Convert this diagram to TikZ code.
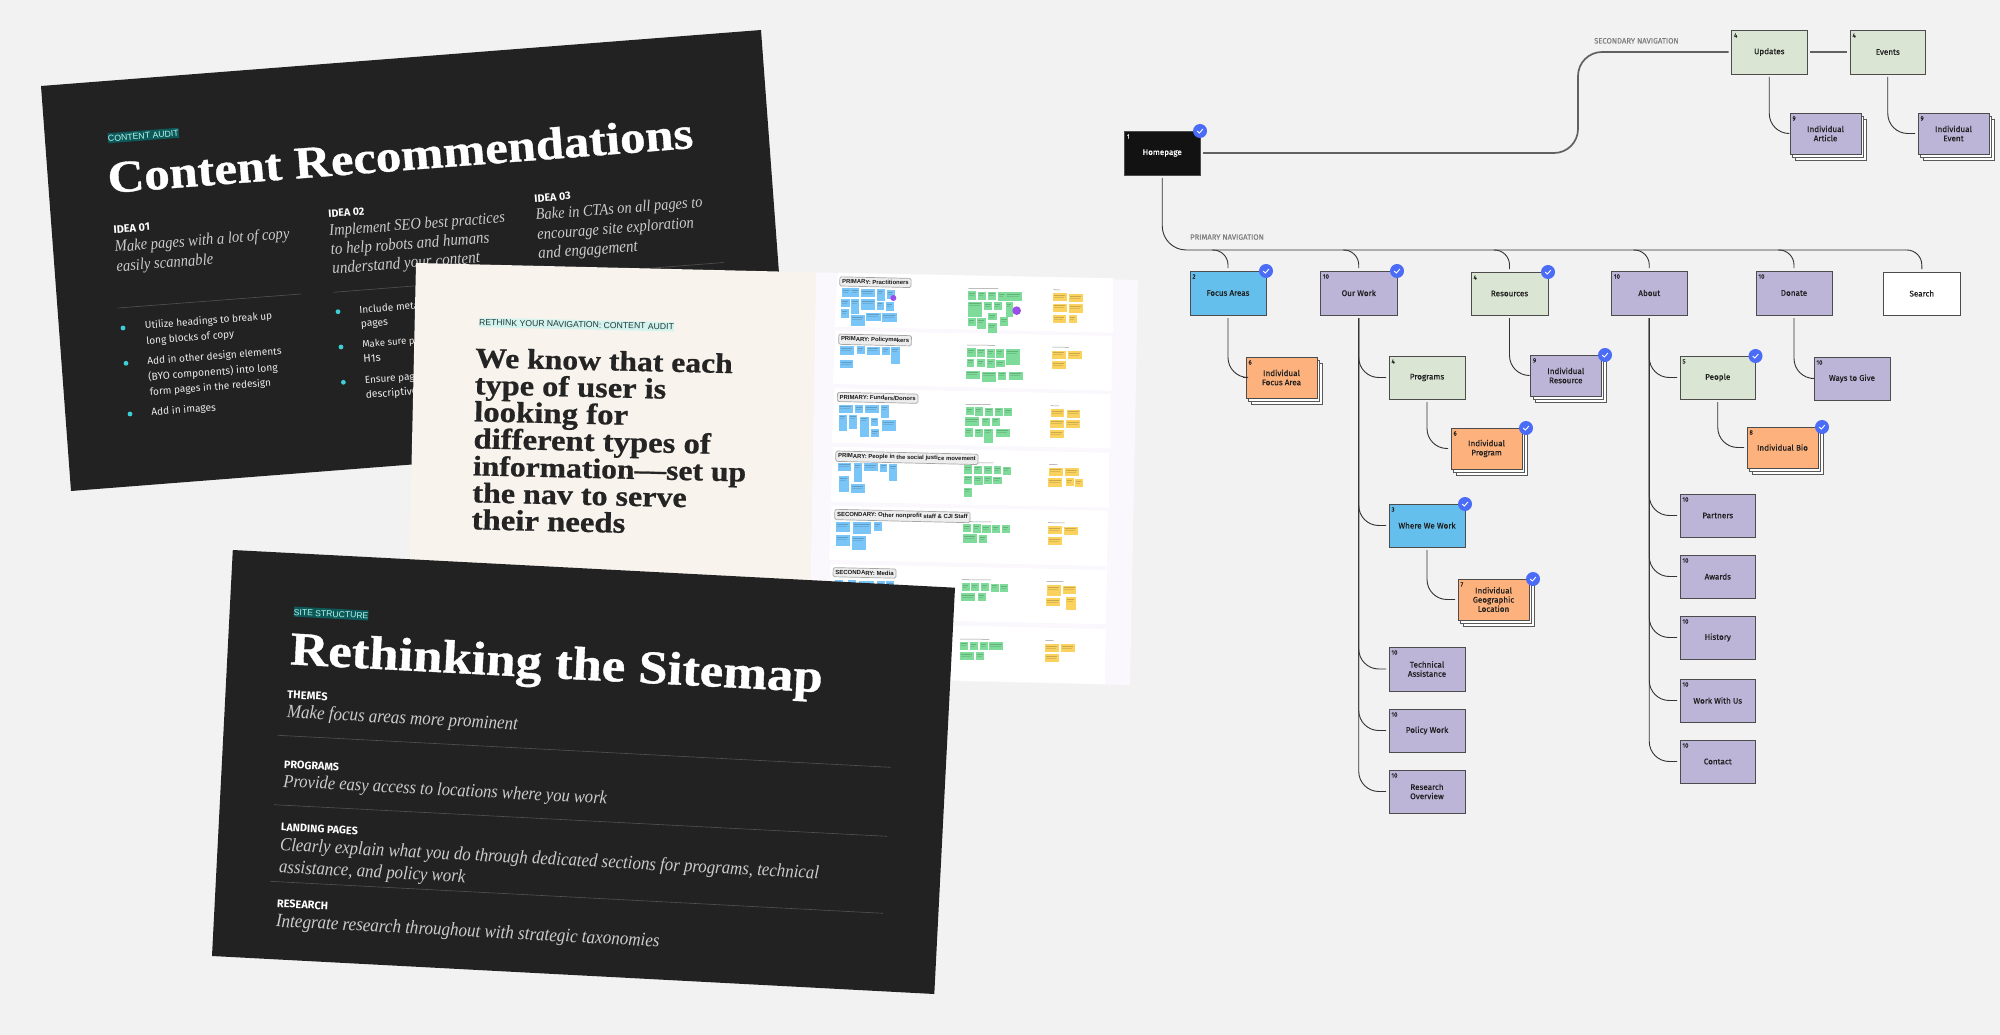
\documentclass[tikz,border=0pt]{standalone}
\usepackage{fontspec}
\usepackage{graphicx}
\setmainfont{Liberation Serif}
\newfontfamily\ttlf{Liberation Serif}[FakeStretch=1.12,FakeBold=0.8]
\newfontfamily\itf{Liberation Serif}[FakeStretch=0.9]
\newfontfamily\sansf{Fira Sans}
\newfontfamily\lblf{Fira Sans}[FakeBold=0.5]
\newfontfamily\hdrf{Liberation Sans}
\definecolor{bgc}{HTML}{F2F2F2}
\definecolor{darkc}{HTML}{222222}
\definecolor{creamc}{HTML}{F8F3EC}
\definecolor{lavc}{HTML}{FAF7FD}
\definecolor{greenb}{HTML}{DBE5D3}
\definecolor{purpb}{HTML}{BCB5D8}
\definecolor{blueb}{HTML}{64BFEC}
\definecolor{orangeb}{HTML}{FDB27D}
\definecolor{checkc}{HTML}{4A6CF7}
\definecolor{cyanc}{HTML}{3CCFD8}
\definecolor{sblue}{HTML}{79C5F7}
\definecolor{sgreen}{HTML}{7FDB9A}
\definecolor{syellow}{HTML}{FBD25E}
\definecolor{spurple}{HTML}{9B4DEA}
\definecolor{hldbg}{HTML}{0E5A5A}
\definecolor{hldtx}{HTML}{B5F5EE}
\definecolor{hllbg}{HTML}{D5F3EE}
\definecolor{hlltx}{HTML}{1F3B3B}
\newcount\tn
\newcommand{\st}[6]{\global\advance\tn by 1
  \node[anchor=base west,inner sep=0pt,rotate=#3,#4] (t\the\tn) at (#1,#2) {\resizebox{#5pt}{!}{#6}};}
\newcommand{\hdr}[4]{\global\advance\tn by 1
  \node[anchor=base west,rotate=-1.3,hdrbox] (t\the\tn) at ({#1-2.3},#2) {\resizebox{#3pt}{!}{#4}};}
\newcommand{\bx}[8]{%
  \node[box,#6,minimum width={(#4-#2)*1pt},minimum height={(#5-#3)*1pt}] (#1) at ({(#2+#4)/2},{(#3+#5)/2}) {#8};
  \node[numlbl,#6] (#1n) at ([shift={(5.5,8.5)}]#1.north west) {#7};}
\newcommand{\bxs}[8]{%
  \node[stackbox,minimum width={(#4-#2)*1pt},minimum height={(#5-#3)*1pt}] (#1bb) at ({(#2+#4)/2+5},{(#3+#5)/2+6}) {};
  \node[stackbox,minimum width={(#4-#2)*1pt},minimum height={(#5-#3)*1pt}] (#1ba) at ({(#2+#4)/2+2.5},{(#3+#5)/2+3}) {};
  \bx{#1}{#2}{#3}{#4}{#5}{#6}{#7}{#8}}
\newcommand{\bdg}[2]{%
  \node[badge] (#1ck) at ([shift={({-3+#2},3)}]#1.north east) {};
  \draw[white,line width=.9pt,line cap=round,line join=round] ([shift={(-2.7,0.2)}]#1ck.center) -- ([shift={(-0.7,2.1)}]#1ck.center) -- ([shift={(2.8,-1.9)}]#1ck.center);}
\newcommand{\stickies}[2]{\foreach \x/\y/\w/\h in {#2}{
  \fill[#1] (\x,\y) rectangle ++(\w,\h);
  \fill[black,opacity=.2] (\x+3,\y+5) rectangle ++(\w-8,3);
  \fill[black,opacity=.12] (\x+3,\y+11) rectangle ++(\w-11,3);}}
\tikzset{
  box/.style={draw=black!70,line width=.8pt,inner sep=1pt,outer sep=3pt,align=center,text=black!88,font=\lblf\fontsize{8.1}{9.2}\selectfont},
  numlbl/.style={draw=none,fill=none,anchor=west,inner sep=0pt,outer sep=0pt,minimum width=0pt,minimum height=0pt,text=black!90,font=\lblf\fontsize{6}{6.5}\selectfont},
  stackbox/.style={draw=black!65,fill=white,line width=.7pt,inner sep=0pt,outer sep=0pt},
  gb/.style={fill=greenb},pb/.style={fill=purpb},bb/.style={fill=blueb},ob/.style={fill=orangeb},wb/.style={fill=white},
  hb/.style={fill=black!93,text=white},
  badge/.style={circle,fill=checkc,minimum size=14pt,inner sep=0pt,outer sep=0pt},
  conn/.style={draw=black!80,line width=.9pt},
  connthick/.style={draw=black!62,line width=1.7pt},
  navlbl/.style={text=black!50,font=\lblf\fontsize{6}{7}\selectfont},
  ttlw/.style={text=white,font=\ttlf\bfseries\fontsize{40}{48}\selectfont},
  ttld/.style={text=black!86,font=\ttlf\bfseries\fontsize{30}{32}\selectfont},
  itw/.style={text=white!80!black,font=\itf\itshape\fontsize{14}{16}\selectfont},
  capw/.style={text=white,font=\sansf\bfseries\fontsize{10}{12}\selectfont},
  bodw/.style={text=white!92!black,font=\sansf\fontsize{10}{12}\selectfont},
  hld/.style={fill=hldbg,text=hldtx,text height=8.4pt,text depth=1.6pt,font=\hdrf\fontsize{10}{12}\selectfont},
  hll/.style={fill=hllbg,text=hlltx,text height=7.6pt,text depth=1.8pt,font=\hdrf\fontsize{10}{12}\selectfont},
  hdrbox/.style={draw=black!35,fill=black!7,rounded corners=1.5pt,inner xsep=2.3pt,inner ysep=2.4pt,line width=.7pt,text=black!90,font=\hdrf\bfseries\fontsize{10}{12}\selectfont},
  sepl/.style={draw=white!32!black,line width=.6pt},
  bull/.style={fill=cyanc},
  smallh/.style={draw=black!40,line width=.5pt},
}
\begin{document}
\begin{tikzpicture}[x=1pt,y=-1pt]
\fill[bgc] (0,0) rectangle (2000,1035);
\useasboundingbox (0,0) rectangle (2000,1035);

% ---------- slide 1
\fill[darkc] (41,86) -- (761,30) -- (791,435) -- (71,491) -- cycle;
\st{108}{141.6}{4.4}{hld}{71}{CONTENT AUDIT}
\st{108.6}{193}{4.4}{ttlw}{587}{Content Recommendations}
\st{113.6}{233.3}{4.4}{capw}{36.5}{IDEA 01}
\st{115}{252}{4.4}{itw}{175}{Make pages with a lot of copy}
\st{116.6}{271.7}{4.4}{itw}{97}{easily scannable}
\draw[sepl] (118,308) -- (301,294);
\fill[bull] (123,328) circle (2.4) (126,363.3) circle (2.4) (130,414) circle (2.4);
\st{145}{329}{4.4}{bodw}{127.6}{Utilize headings to break up}
\st{146.4}{344.3}{4.4}{bodw}{88}{long blocks of copy}
\st{147.4}{364.7}{4.4}{bodw}{134.5}{Add in other design elements}
\st{148.4}{380.7}{4.4}{bodw}{129.6}{(BYO components) into long}
\st{150}{395.3}{4.4}{bodw}{121.4}{form pages in the redesign}
\st{151.4}{415.7}{4.4}{bodw}{64.7}{Add in images}
\st{328.5}{217.7}{4.4}{capw}{36}{IDEA 02}
\st{329.5}{236}{4.4}{itw}{176}{Implement SEO best practices}
\st{331}{255}{4.4}{itw}{159}{to help robots and humans}
\st{332.5}{274}{4.4}{itw}{148}{understand your content}
\draw[sepl] (333.5,292.3) -- (516,278);
\fill[bull] (338,311.7) circle (2.4) (341,347) circle (2.4) (343.4,382.3) circle (2.4);
\st{359.4}{313.3}{4.4}{bodw}{60}{Include meta}
\st{361}{327.3}{4.4}{bodw}{27}{pages}
\st{362.3}{347.7}{4.4}{bodw}{72}{Make sure pages}
\st{363.3}{362.7}{4.4}{bodw}{17.5}{H1s}
\st{364.8}{383.7}{4.4}{bodw}{60}{Ensure pages}
\st{365.8}{398.3}{4.4}{bodw}{52}{descriptive}
\st{534.5}{202.3}{4.4}{capw}{36.4}{IDEA 03}
\st{536}{220}{4.4}{itw}{167}{Bake in CTAs on all pages to}
\st{537.5}{239.7}{4.4}{itw}{157}{encourage site exploration}
\st{538.5}{259}{4.4}{itw}{99.7}{and engagement}
\draw[sepl] (540,276.8) -- (724,262.5);

% ---------- slide 2
\fill[creamc] (416,263) -- (816,272.4) -- (809,678) -- (407,669) -- cycle;
\fill[lavc] (816,272.4) -- (1138,280) -- (1130,685) -- (809,678) -- cycle;
\fill[white] (837.8,272.7) -- (1113,278.3) -- (1113,332.7) -- (834.4,326.7) -- cycle;
\fill[white] (835.4,330.7) -- (1112,336) -- (1111.5,390.7) -- (833,384) -- cycle;
\fill[white] (834.4,388.3) -- (1110.5,394) -- (1110.5,448.3) -- (832,442.7) -- cycle;
\fill[white] (833,446.7) -- (1109,452.7) -- (1109,507.7) -- (830.6,501.7) -- cycle;
\fill[white] (831.6,506) -- (1108,510.7) -- (1107,566) -- (829,560) -- cycle;
\fill[white] (830.6,564) -- (1107,570) -- (1105.7,624.3) -- (828,618.3) -- cycle;
\fill[white] (828,622.7) -- (1105.7,629) -- (1104.8,684) -- (825.8,677.3) -- cycle;
\st{479}{325.3}{-1.3}{hll}{194.7}{RETHINK YOUR NAVIGATION: CONTENT AUDIT}
\st{475}{367.3}{-1.3}{ttld}{257.5}{We know that each}
\st{474.4}{394.3}{-1.3}{ttld}{191.5}{type of user is}
\st{473.8}{421.3}{-1.3}{ttld}{154}{looking for}
\st{473.2}{448.3}{-1.3}{ttld}{237.3}{different types of}
\st{472.6}{475.3}{-1.3}{ttld}{273.2}{information—set up}
\st{472}{502.3}{-1.3}{ttld}{214.4}{the nav to serve}
\st{471.3}{529.3}{-1.3}{ttld}{153.7}{their needs}
\begin{scope}[shift={(830,270)},x=.33333pt,y=-.33333pt]
\stickies{sblue}{35/55/27/27,63/55/25/27,92/57/42/25,140/58/24/35,170/60/25/27,33/88/27/24,63/88/25/45,93/88/43/33,140/95/22/25,167/97/25/25,33/118/24/25,62/135/42/33,108/128/45/26,157/130/43/26,
31/228/41/26,80/228/24/24,110/230/40/24,156/231/24/24,184/232/26/50,29/270/41/24,
27/404/42/24,76/405/24/25,105/406/42/23,152/406/25/38,26/434/24/48,58/434/24/44,91/440/26/60,122/443/23/24,155/450/42/32,124/477/24/25,
23/578/41/26,72/580/24/56,102/580/42/24,149/581/23/24,178/582/24/50,27/618/30/48,64/643/41/25}
\stickies{sgreen}{415/63/24/27,444/65/24/25,473/65/26/25,503/67/24/25,527/67/48/25,415/95/42/45,461/96/26/25,491/97/25/24,527/97/22/45,413/144/24/25,442/145/25/32,474/130/27/20,510/142/25/26,475/160/26/28,
411/235/26/27,441/236/25/26,471/237/24/26,499/238/23/26,527/238/42/46,411/266/22/26,440/268/24/24,470/268/24/25,499/270/25/22,408/302/42/26,457/305/42/30,505/305/24/24,537/305/42/26,
407/412/25/24,436/412/23/25,465/413/25/24,495/413/23/24,523/414/24/25,406/442/42/26,455/443/25/24,487/443/23/24,405/475/24/25,435/476/24/24,463/476/25/44,498/476/41/26,
403/586/24/25,432/587/24/24,461/588/26/24,491/589/23/24,519/590/24/24,401/617/26/24,433/618/25/26,461/618/24/24,490/620/25/22,401/653/25/28}
\stickies{syellow}{670/70/41/24,716/72/42/24,669/101/41/24,717/103/42/25,670/135/38/23,716/135/25/25,
667/242/41/25,714/243/42/24,666/273/41/25,
662/417/41/24,710/419/41/24,660/449/43/24,709/450/42/24,660/480/42/24,
657/593/41/24,705/595/42/24,655/625/42/25,708/625/24/24,734/628/24/22}
\fill[spurple] (190,84) circle (9) (560,122) circle (13);
\foreach \x/\y/\w in {415/55/90,670/59/22,411/225/85,667/231/50,407/403/75,662/407/25,420/578/70,657/583/25}{\draw[smallh] (\x,\y) -- ++(\w,1);}
\end{scope}
\begin{scope}[shift={(830,480)},x=.33333pt,y=-.33333pt]
\stickies{sblue}{18/126/42/30,68/127/56/34,131/127/24/25,18/166/42/32,66/169/42/40,15/300/24/20,54/301/24/20,87/304/44/20,141/303/24/20,169/304/24/20}
\stickies{sgreen}{400/132/24/25,428/133/24/25,457/135/25/25,486/136/24/24,515/136/25/24,398/163/43/25,447/165/24/24,
395/309/24/25,423/309/24/24,453/310/24/24,482/311/24/24,511/312/24/24,394/340/42/23,443/340/24/24,
390/485/25/24,420/486/24/24,449/487/24/24,478/487/42/24,390/516/42/24,439/517/24/24}
\stickies{syellow}{654/138/42/25,702/140/42/24,654/171/42/24,650/315/42/32,698/317/41/24,649/355/42/24,708/352/30/38,
646/492/41/24,693/493/42/24,645/523/42/24}
\foreach \x/\y/\w in {410/125/75,654/128/50,395/299/88,650/304/50,390/477/88,646/481/25}{\draw[smallh] (\x,\y) -- ++(\w,1);}
\end{scope}
\hdr{841.7}{283.5}{66.7}{PRIMARY: Practitioners}
\hdr{840.7}{340.7}{68}{PRIMARY: Policymakers}
\hdr{839.3}{399}{76}{PRIMARY: Funders/Donors}
\hdr{837.7}{457.7}{137.7}{PRIMARY: People in the social justice movement}
\hdr{836.7}{516}{130.7}{SECONDARY: Other nonprofit staff \& CJI Staff}
\hdr{835}{574.3}{58.3}{SECONDARY: Media}

% ---------- slide 3
\fill[darkc] (232.8,550) -- (955,587.7) -- (934.3,994) -- (212,956) -- cycle;
\st{293.5}{615}{-3}{hld}{74.6}{SITE STRUCTURE}
\st{289.5}{664.3}{-3}{ttlw}{533}{Rethinking the Sitemap}
\st{287}{698.3}{-3}{capw}{40.3}{THEMES}
\st{286.6}{717.7}{-3}{itw}{231}{Make focus areas more prominent}
\draw[sepl] (277.6,735.3) -- (890.5,767.3);
\st{283.6}{768}{-3}{capw}{55.2}{PROGRAMS}
\st{283}{787}{-3}{itw}{324}{Provide easy access to locations where you work}
\draw[sepl] (274,804.7) -- (887,836.3);
\st{280.6}{830.7}{-3}{capw}{77}{LANDING PAGES}
\st{279.6}{850.7}{-3}{itw}{539.7}{Clearly explain what you do through dedicated sections for programs, technical}
\st{278.6}{872.7}{-3}{itw}{186.6}{assistance, and policy work}
\draw[sepl] (270,881.3) -- (883,913.3);
\st{276.6}{907.3}{-3}{capw}{51.2}{RESEARCH}
\st{275.6}{926.7}{-3}{itw}{384}{Integrate research throughout with strategic taxonomies}

% ---------- sitemap boxes
\bx{home}{1124.5}{131}{1200}{175}{hb}{\textcolor{white}{1}}{Homepage}
\bx{updates}{1731.5}{30}{1807}{74}{gb}{4}{Updates}
\bx{events}{1850}{30}{1925.5}{74}{gb}{4}{Events}
\bxs{article}{1790}{113}{1861}{154}{pb}{9}{Individual\\Article}
\bxs{event}{1918}{113}{1989}{154}{pb}{9}{Individual\\Event}
\bx{focus}{1190}{271}{1266}{315}{bb}{2}{Focus Areas}
\bx{ourwork}{1320.5}{271}{1397}{315}{pb}{10}{Our Work}
\bx{resources}{1471}{272}{1548}{315}{gb}{4}{Resources}
\bx{about}{1611.5}{271}{1687}{315}{pb}{10}{About}
\bx{donate}{1756}{271}{1832}{315}{pb}{10}{Donate}
\bx{search}{1883.6}{272}{1960}{315}{wb}{}{Search}
\bxs{indfocus}{1246}{357}{1317}{398}{ob}{6}{Individual\\Focus Area}
\bx{programs}{1389}{356}{1465}{399}{gb}{4}{Programs}
\bxs{indres}{1530.5}{355}{1601}{396}{pb}{9}{Individual\\Resource}
\bx{people}{1680}{356}{1755.5}{399}{gb}{5}{People}
\bx{ways}{1814}{357}{1890}{400}{pb}{10}{Ways to Give}
\bxs{indprog}{1451}{428}{1522}{469}{ob}{6}{Individual\\Program}
\bx{where}{1389}{504}{1465}{547}{bb}{3}{Where We Work}
\bxs{indgeo}{1458}{579}{1529}{620}{ob}{7}{Individual\\Geographic\\Location}
\bx{tech}{1389}{647}{1465}{691}{pb}{10}{Technical\\Assistance}
\bx{policy}{1389}{709}{1465}{752}{pb}{10}{Policy Work}
\bx{research}{1389}{770}{1465}{813}{pb}{10}{Research\\Overview}
\bxs{indbio}{1747}{427}{1818}{468}{ob}{8}{Individual Bio}
\bx{partners}{1680}{494}{1755.5}{537}{pb}{10}{Partners}
\bx{awards}{1680}{555}{1755.5}{598}{pb}{10}{Awards}
\bx{history}{1680}{616}{1755.5}{659}{pb}{10}{History}
\bx{workwith}{1680}{679}{1755.5}{722}{pb}{10}{Work With Us}
\bx{contact}{1680}{740}{1755.5}{783}{pb}{10}{Contact}

\node[navlbl,anchor=base west,inner sep=0pt] (secnav) at (1594,43.5) {\resizebox{84.5pt}{!}{SECONDARY NAVIGATION}};
\node[navlbl,anchor=base west,inner sep=0pt] (prinav) at (1190,239.7) {\resizebox{73.6pt}{!}{PRIMARY NAVIGATION}};

% ---------- connectors
\coordinate (turn) at (1578,0);
\coordinate (bus) at (0,250);
\draw[connthick,rounded corners=24pt] (home.east) -- (home.east -| turn) -- (updates.west -| turn) -- (updates.west);
\draw[connthick] (updates.east) -- (events.west);
\draw[conn,rounded corners=24pt] (home.south) -- (home.south |- bus) -- ([xshift=-16pt]search.north |- bus);
\foreach \n in {focus,ourwork,resources,about,donate,search}{
  \draw[conn,rounded corners=15pt] ([xshift=-16pt]\n.north |- bus) -- (\n.north |- bus) -- (\n.north);}
\foreach \a/\b in {updates/article,events/event,focus/indfocus,resources/indres,donate/ways,programs/indprog,where/indgeo,people/indbio,
  ourwork/programs,ourwork/where,ourwork/tech,ourwork/policy,ourwork/research,
  about/people,about/partners,about/awards,about/history,about/workwith,about/contact}{
  \draw[conn,rounded corners=20pt] (\a.south) |- (\b.west);}

% ---------- badges
\bdg{home}{0}
\bdg{focus}{0}
\bdg{ourwork}{0}
\bdg{resources}{0}
\bdg{indres}{4}
\bdg{people}{0}
\bdg{indprog}{4}
\bdg{where}{0}
\bdg{indgeo}{4}
\bdg{indbio}{4}
\end{tikzpicture}
\end{document}
